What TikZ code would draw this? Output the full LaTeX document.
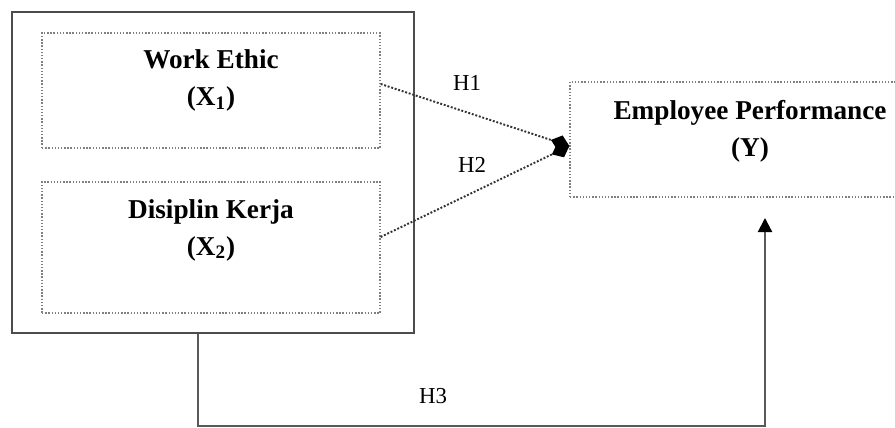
\documentclass[tikz,border=0pt]{standalone}
\usepackage{fontspec}
\setmainfont{Liberation Serif}
\usetikzlibrary{arrows.meta, positioning}

\begin{document}
\begin{tikzpicture}[x=0.02cm, y=-0.02cm,
    every node/.style={font=\fontsize{15.5}{21}\selectfont},
    group/.style={rectangle, draw=black!70, line width=0.9pt, inner sep=0pt},
    varbox/.style={rectangle, draw=black!50, densely dotted, line width=0.8pt, inner sep=0pt},
    varname/.style={align=center, inner sep=0pt, font=\fontsize{15.5}{21}\selectfont\bfseries},
    hyp/.style={font=\fontsize{13}{15}\selectfont},
    partial/.style={draw=black!80, densely dotted, line width=1.1pt, -{Diamond[length=11pt, width=9pt, black]}},
    joint/.style={draw=black!65, line width=1.2pt, -{Triangle[length=8pt, width=8pt, black]}},
]
\useasboundingbox (0,0) rectangle (895,428);

\node[group, minimum width=8.04cm, minimum height=6.42cm] (outer) at (213,172.5) {};
\node[varbox, minimum width=6.76cm, minimum height=2.3cm] (we) at (211,90.5) {};
\node[varbox, minimum width=6.76cm, minimum height=2.62cm] (dk) at (211,247.5) {};
\node[varbox, minimum width=7.2cm, minimum height=2.3cm] (yb) at (750,139.5) {};

\node[varname, below=9.6pt of we.north] (we-lbl) {Work Ethic\\(X\textsubscript{1})};
\node[varname, below=10pt of dk.north] (dk-lbl) {Disiplin Kerja\\(X\textsubscript{2})};
\node[varname, below=10.5pt of yb.north] (yb-lbl) {Employee Performance\\(Y)};

\draw[partial] ([yshift=3.7pt]we.east) -- ([yshift=-3.7pt]yb.west);
\draw[partial] ([yshift=6pt]dk.east) -- ([yshift=-3.7pt]yb.west);

\node[hyp] (h1) at (467,83) {H1};
\node[hyp] (h2) at (472,165) {H2};
\node[hyp] (h3) at (433,396) {H3};

\coordinate (bendL) at (198,426);
\coordinate (bendR) at (765,426);
\coordinate (tipY) at (765,218);
\draw[joint] (outer.south -| bendL) -- (bendL) -- (bendR) -- (tipY);

\end{tikzpicture}
\end{document}
